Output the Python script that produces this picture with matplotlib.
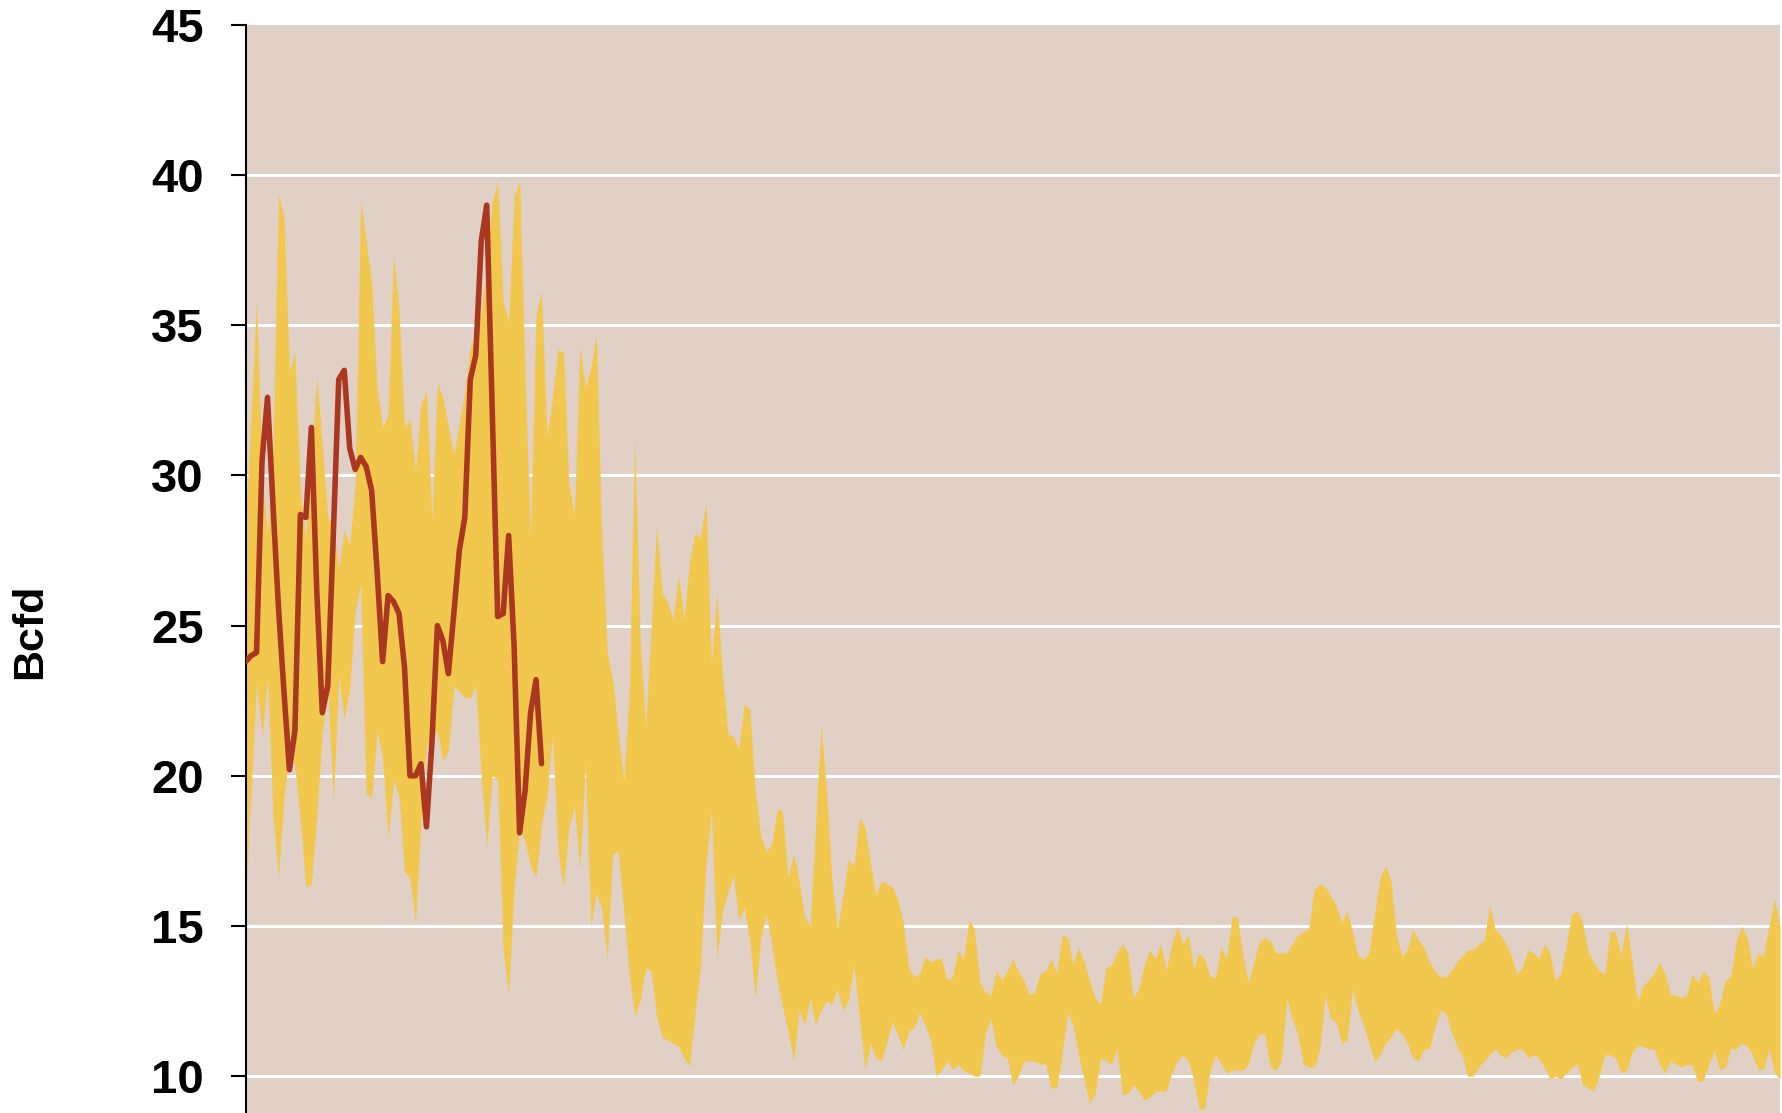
import matplotlib
matplotlib.use("Agg")
import matplotlib.pyplot as plt
import numpy as np

# range band (upper / lower edge), Bcfd, one value per period
upper = [28.5, 32.0, 35.9, 30.0, 28.0, 31.0, 39.4, 38.6, 33.5, 34.1,
         29.4, 27.9, 30.5, 33.3, 31.0, 28.6, 28.4, 26.9, 28.2, 27.7,
         29.7, 39.2, 37.8, 36.4, 32.9, 31.6, 32.0, 37.4, 35.5, 31.6,
         31.9, 30.1, 32.4, 32.8, 28.5, 33.1, 32.6, 31.6, 30.7, 31.7,
         32.8, 34.3, 34.6, 35.4, 37.0, 39.1, 39.8, 35.8, 35.1, 39.3,
         39.8, 33.3, 27.9, 35.4, 36.1, 31.3, 32.6, 34.2, 34.1, 29.7,
         28.7, 34.3, 32.9, 33.6, 34.7, 28.0, 24.1, 23.2, 21.4, 19.9,
         22.7, 31.2, 24.5, 21.6, 24.9, 28.4, 26.1, 25.8, 25.2, 26.7,
         25.2, 27.1, 28.1, 27.9, 29.1, 23.7, 26.1, 23.4, 21.4, 21.3,
         20.9, 22.4, 22.2, 19.5, 18.0, 17.5, 17.7, 18.9, 18.8, 16.6,
         17.4, 16.5, 15.3, 15.0, 18.3, 21.7, 19.5, 16.5, 14.9, 16.0,
         17.2, 17.0, 18.6, 18.3, 17.1, 16.0, 16.5, 16.4, 16.3, 15.9,
         15.1, 13.6, 13.3, 13.4, 14.0, 13.8, 13.9, 13.9, 13.2, 13.3,
         14.2, 13.9, 15.2, 14.9, 13.1, 12.8, 12.7, 13.5, 13.2, 13.5,
         13.9, 13.5, 13.2, 12.7, 12.8, 13.4, 13.5, 13.9, 13.4, 14.7,
         14.6, 13.7, 14.3, 13.8, 13.2, 12.6, 12.4, 13.6, 13.7, 14.1,
         14.4, 14.1, 12.6, 12.9, 13.7, 14.2, 13.9, 14.4, 13.5, 14.4,
         15.0, 14.4, 14.7, 13.6, 14.1, 13.9, 13.3, 13.3, 14.3, 13.9,
         15.3, 15.3, 14.0, 13.1, 13.8, 14.5, 14.6, 14.5, 14.1, 14.1,
         14.1, 14.4, 14.7, 14.8, 14.9, 16.2, 16.4, 16.3, 16.0, 15.7,
         15.1, 15.5, 14.8, 14.0, 13.9, 14.1, 15.4, 16.6, 17.0, 16.5,
         14.7, 14.0, 14.2, 14.9, 14.5, 14.3, 13.8, 13.5, 13.3, 13.3,
         13.5, 13.8, 14.0, 14.2, 14.2, 14.4, 14.5, 15.7, 14.9, 14.7,
         14.4, 14.0, 13.4, 13.6, 14.2, 14.1, 13.9, 14.4, 14.1, 13.2,
         13.4, 14.4, 15.4, 15.5, 15.1, 14.1, 13.8, 13.5, 13.4, 14.8,
         14.8, 14.0, 15.1, 13.8, 12.5, 13.0, 13.2, 13.4, 13.8, 13.4,
         12.7, 12.7, 12.6, 12.7, 13.4, 13.1, 13.5, 13.3, 12.1, 12.4,
         13.2, 13.3, 14.5, 15.0, 14.6, 13.6, 14.1, 14.0, 15.0, 15.9, 15.0]

lower = [15.9, 19.5, 23.1, 21.3, 23.3, 18.7, 16.6, 19.3, 20.8, 20.3,
         18.5, 16.3, 16.4, 18.7, 21.5, 23.0, 19.1, 23.3, 21.9, 22.9,
         25.5, 26.4, 19.4, 19.3, 21.5, 20.6, 17.9, 19.9, 19.3, 16.8,
         16.6, 15.1, 18.5, 21.0, 21.2, 21.5, 20.5, 20.8, 23.0, 22.8,
         22.6, 22.6, 23.0, 20.0, 17.6, 20.0, 19.9, 14.2, 12.7, 16.3,
         18.3, 17.8, 17.0, 16.6, 18.4, 19.3, 21.4, 17.5, 16.3, 18.3,
         19.0, 16.9, 20.4, 15.0, 16.1, 15.6, 13.9, 17.4, 17.5, 15.5,
         13.4, 12.0, 12.5, 13.6, 13.5, 12.0, 11.3, 11.2, 11.1, 11.0,
         10.6, 10.35, 12.1, 13.6, 17.0, 18.9, 13.9, 15.5, 16.1, 16.7,
         15.2, 15.6, 14.5, 12.6, 14.6, 15.4, 14.4, 13.2, 12.3, 11.5,
         10.5, 12.2, 11.7, 12.6, 11.7, 12.2, 12.5, 12.4, 12.9, 12.2,
         12.5, 13.7, 12.0, 10.2, 11.1, 10.6, 10.5, 11.1, 11.8, 11.4,
         10.9, 11.5, 11.6, 12.1, 11.7, 11.2, 10.0, 10.2, 10.5, 10.2,
         10.4, 10.2, 10.1, 10.0, 10.0, 11.4, 11.9, 11.0, 10.7, 10.6,
         9.7, 10.0, 10.5, 10.5, 10.5, 10.4, 10.4, 9.6, 9.6, 10.7,
         12.1, 11.7, 10.7, 9.9, 9.1, 9.4, 10.6, 10.5, 10.4, 10.9,
         9.4, 9.4, 9.7, 9.5, 9.2, 9.3, 9.5, 9.5, 9.5, 10.1,
         10.5, 10.7, 10.5, 9.9, 8.9, 8.9, 10.2, 10.7, 10.4, 10.1,
         10.2, 10.2, 10.2, 10.4, 11.1, 11.4, 11.4, 10.3, 10.2, 10.5,
         12.6, 11.9, 11.4, 10.4, 10.3, 10.3, 10.9, 12.7, 11.9, 11.8,
         11.1, 11.2, 12.9, 12.2, 11.7, 11.1, 10.5, 10.7, 11.1, 11.3,
         11.6, 11.4, 11.1, 10.6, 10.5, 10.9, 10.9, 11.6, 12.2, 12.1,
         11.5, 11.0, 10.7, 10.0, 10.0, 10.3, 10.5, 10.7, 10.9, 10.7,
         10.6, 10.8, 10.9, 10.9, 10.6, 10.7, 10.6, 10.3, 9.9, 10.0,
         9.9, 10.1, 10.3, 10.4, 9.7, 9.6, 9.5, 10.0, 10.7, 10.7,
         10.6, 10.1, 10.2, 10.8, 11.0, 11.0, 10.9, 10.9, 10.4, 10.1,
         10.5, 10.4, 10.3, 10.4, 10.35, 9.8, 9.85, 10.4, 10.85, 10.2,
         10.3, 10.9, 10.9, 11.1, 11.0, 10.7, 10.2, 10.25, 10.9, 10.1, 9.9]

# current series (red line), starts at the same first period
current = [23.8, 24.0, 24.1, 30.5, 32.6, 29.0, 25.6, 22.8, 20.2, 21.5,
           28.7, 28.6, 31.6, 26.1, 22.1, 23.0, 28.0, 33.2, 33.5, 30.9,
           30.2, 30.6, 30.3, 29.5, 26.8, 23.8, 26.0, 25.8, 25.4, 23.6,
           20.0, 20.0, 20.4, 18.3, 21.1, 25.0, 24.5, 23.4, 25.4, 27.5,
           28.6, 33.2, 34.0, 37.8, 39.0, 32.2, 25.3, 25.4, 28.0, 24.3,
           18.1, 19.5, 22.1, 23.2, 20.4]

yticks = [10, 15, 20, 25, 30, 35, 40, 45]

x_band = np.arange(len(upper))
x_cur = np.arange(len(current))

bg = '#E0D0C5'
band_col = '#F2C74E'
line_col = '#AA3720'

fig = plt.figure(figsize=(17.83, 11.13), dpi=100)
ax = fig.add_axes([245.6/1783, 0.0, (1780-245.6)/1783, 1-25/1113])
ax.set_facecolor(bg)

ax.fill_between(x_band, lower, upper, color=band_col, linewidth=0, zorder=2)
ax.plot(x_cur, current, color=line_col, linewidth=4.0, solid_joinstyle='round',
        solid_capstyle='round', zorder=3)

ax.set_xlim(0, len(upper)-1)
ax.set_ylim(8.77, 45)
ax.set_yticks(yticks)
ax.set_yticklabels([str(t) for t in yticks], fontsize=34, fontweight='bold',
                   family='Liberation Sans')
ax.yaxis.grid(True, color='white', linewidth=2.2, zorder=1)
ax.set_axisbelow(True)
ax.get_ygridlines()[-1].set_visible(False)
ax.set_xticks([])

for s in ['top', 'right', 'bottom']:
    ax.spines[s].set_visible(False)
ax.spines['left'].set_linewidth(1.5)
ax.tick_params(axis='y', direction='out', length=11, width=1.5, pad=19)

fig.text(30/1783, 1-631/1113, 'Bcfd', rotation=90, ha='center', va='center',
         fontsize=31, fontweight='bold', family='Liberation Sans')

fig.savefig('out.png', dpi=100)
